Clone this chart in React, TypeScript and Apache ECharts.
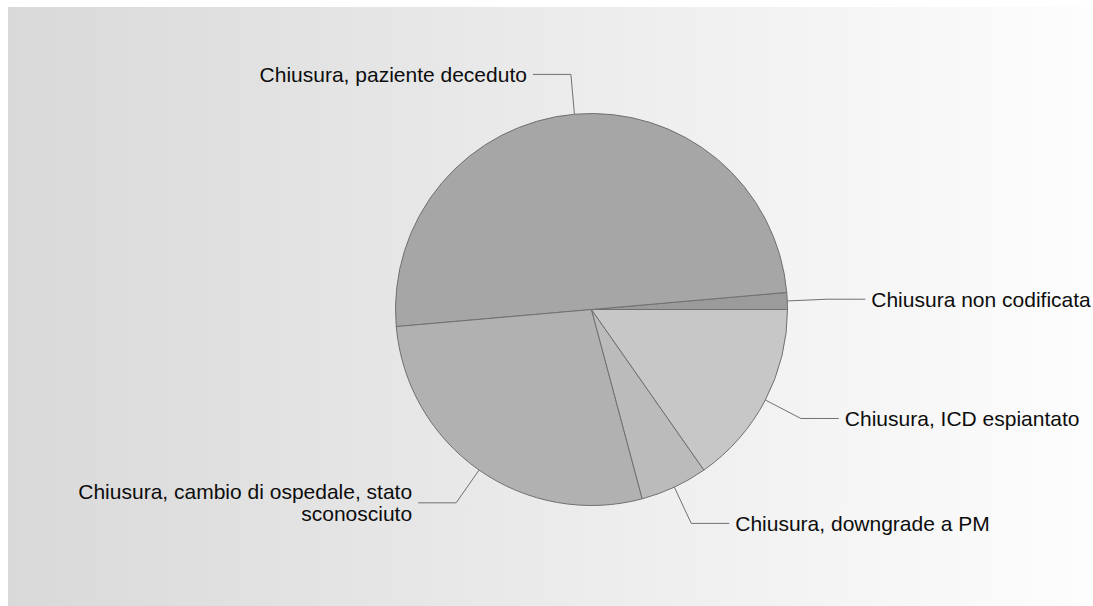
import React, { useEffect, useRef } from "react";
import * as echarts from "echarts";

const categories = [
  "Chiusura non codificata",
  "Chiusura, paziente deceduto",
  "Chiusura, cambio di ospedale, stato sconosciuto",
  "Chiusura, downgrade a PM",
  "Chiusura, ICD espiantato",
];
const values = [1, 36, 20, 4, 11];
const colors = ["#9b9b9b", "#a6a6a6", "#b1b1b1", "#bbbbbb", "#c7c7c7"];

export default function App() {
  const ref = useRef<HTMLDivElement>(null);
  useEffect(() => {
    if (!ref.current) return;
    const chart = echarts.init(ref.current, undefined, { renderer: "svg" });
    chart.setOption({
      animation: false,
      backgroundColor: {
        type: "linear",
        x: 0,
        y: 0,
        x2: 1,
        y2: 0,
        colorStops: [
          { offset: 0, color: "#d9d9d9" },
          { offset: 1, color: "#fdfdfd" },
        ],
      },
      series: [
        {
          type: "pie",
          center: [583.5, 302.5],
          radius: 196,
          startAngle: 0,
          clockwise: false,
          avoidLabelOverlap: false,
          data: categories.map((name, i) => ({
            name,
            value: values[i],
            itemStyle: { color: colors[i] },
          })),
          itemStyle: { borderColor: "#707070", borderWidth: 1 },
          emphasis: { disabled: true },
          label: {
            show: true,
            position: "outside",
            color: "#0d0d0d",
            fontFamily: "Liberation Sans, Arial, sans-serif",
            fontSize: 21,
            lineHeight: 22,
            distanceToLabelLine: 6,
            formatter: (p: any) => p.name.replace(", stato ", ", stato\n"),
          },
          labelLine: {
            show: true,
            length: 40,
            length2: 38,
            smooth: false,
            lineStyle: { color: "#707070", width: 1 },
          },
        },
      ],
    });
    return () => chart.dispose();
  }, []);
  return (
    <div
      ref={ref}
      style={{ position: "absolute", left: 8, top: 7, width: 1085, height: 599 }}
    />
  );
}
